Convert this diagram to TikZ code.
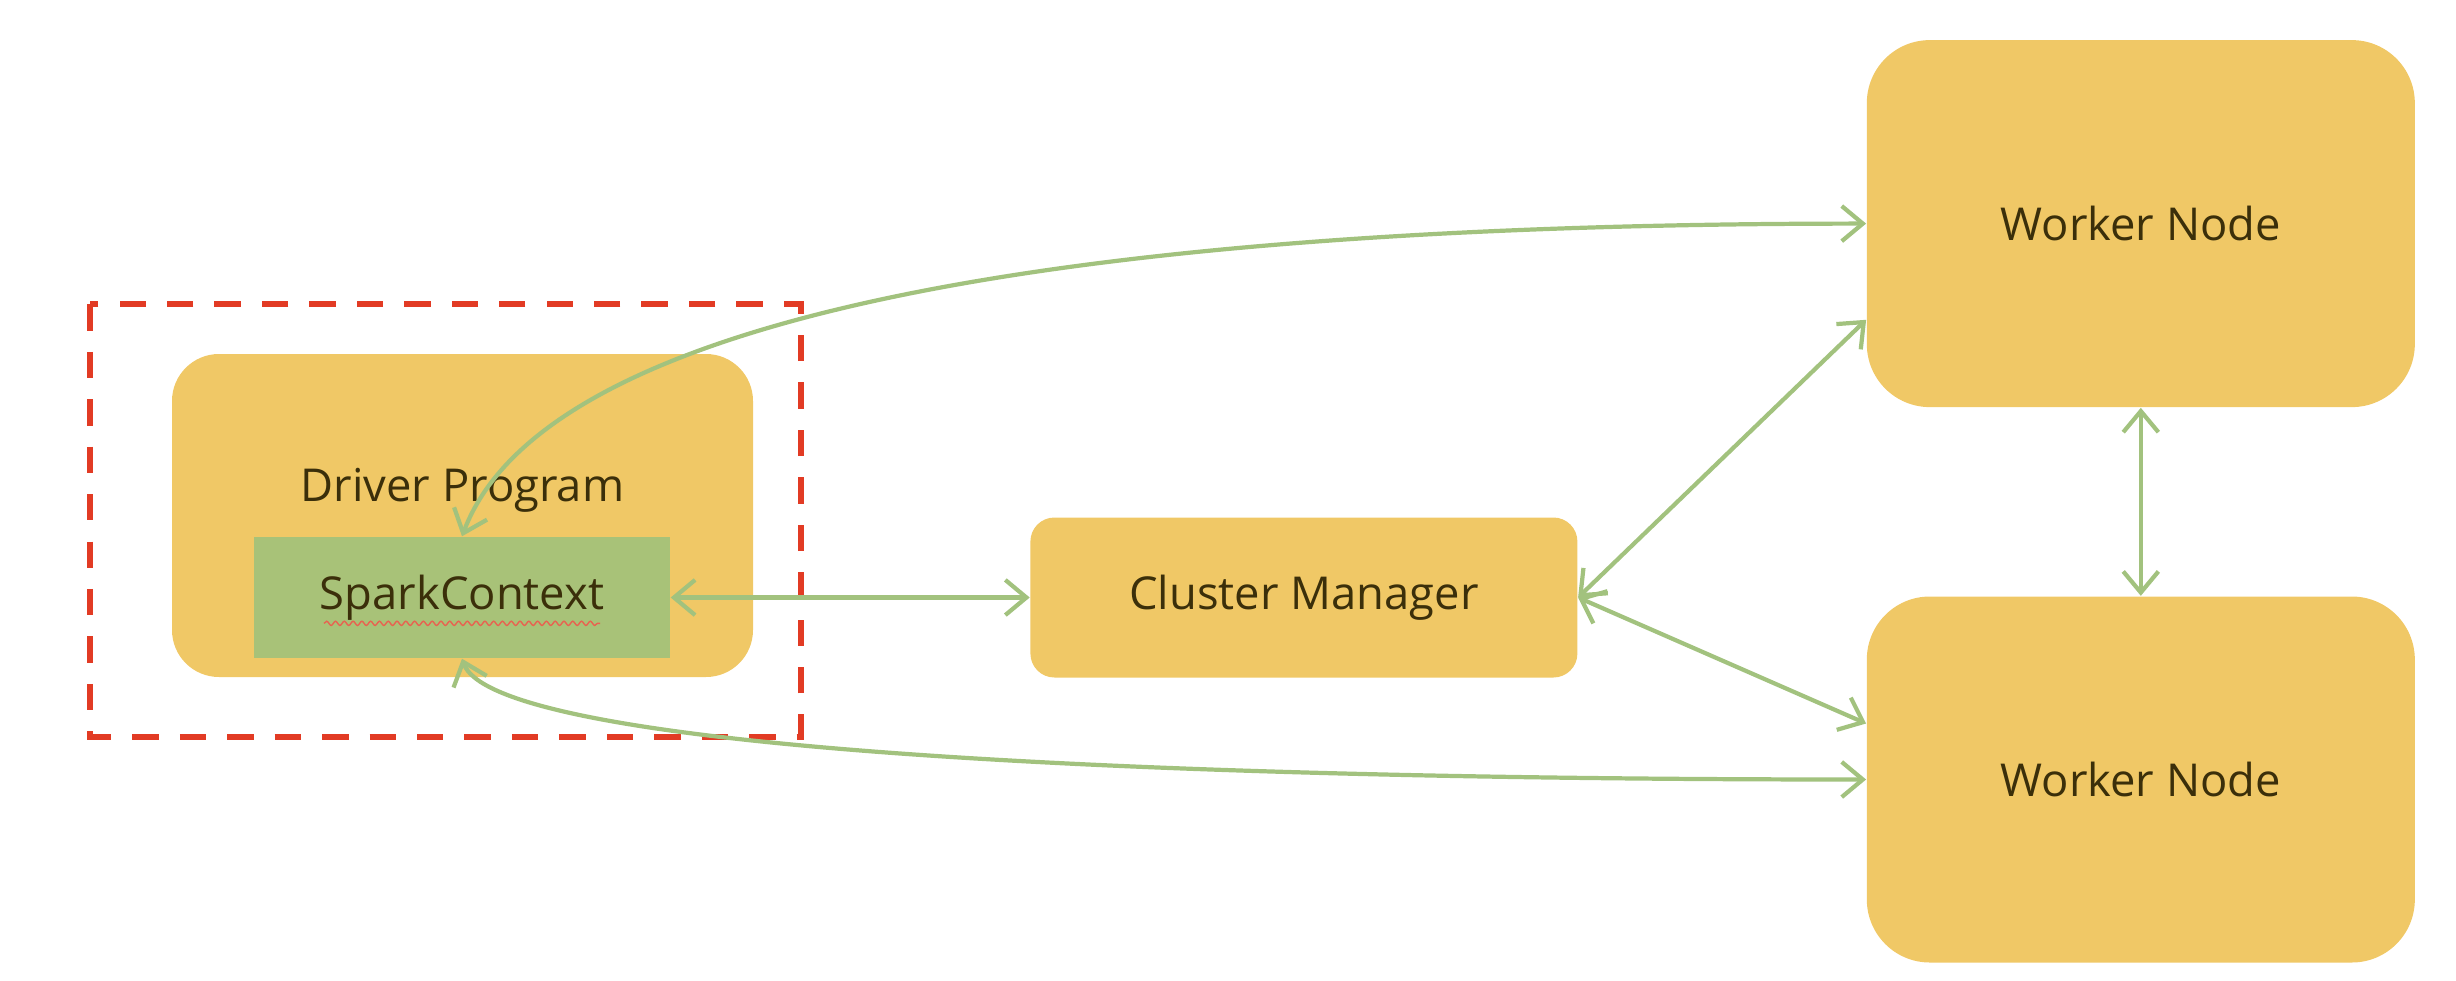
\documentclass[tikz,border=0pt]{standalone}
\usepackage{fontspec}
\setmainfont{Open Sans}
\usepackage{xcolor}
\definecolor{BoxYellow}{HTML}{F0C866}
\definecolor{CtxGreen}{HTML}{A8C278}
\definecolor{LinkGreen}{HTML}{A2C27E}
\definecolor{FrameRed}{HTML}{E23B24}
\definecolor{TextDark}{HTML}{3B2F0A}
\usetikzlibrary{arrows.meta, positioning, decorations.pathmorphing}
\tikzset{
  base box/.style={
    rectangle, align=center, inner sep=0pt,
    font=\fontsize{12.9}{15}\selectfont, text=TextDark
  },
  yellow box/.style={base box, fill=BoxYellow, rounded corners=#1},
  green box/.style={base box, fill=CtxGreen},
  plain text/.style={base box},
  link/.style={{Straight Barb[length=6pt,width=10pt]}-{Straight Barb[length=6pt,width=10pt]},
    line width=1.2pt, color=LinkGreen},
  frame/.style={draw=FrameRed, line width=1.8pt, dash pattern=on 7.5pt off 6pt},
  squiggle/.style={draw=FrameRed!80, line width=0.4pt,
    decorate, decoration={snake, amplitude=0.6pt, segment length=2.5pt}},
}

\begin{document}
\begin{tikzpicture}
  \useasboundingbox (0,0) rectangle (24.56,9.80);

  % -- driver side ------------------------------------------------------------
  \node[yellow box=0.47cm, minimum width=5.81cm, minimum height=3.23cm] (driver) at (4.625,4.645) {};
  \node[plain text] (drivertext) at ([yshift=0.255cm]driver.center) {Driver Program};
  \node[green box, minimum width=4.16cm, minimum height=1.21cm] (spark) at (4.62,3.825) {SparkContext};
  \draw[squiggle] ([xshift=-1.38cm,yshift=-4pt]spark.base) -- ([xshift=1.38cm,yshift=-4pt]spark.base);

  \draw[frame] ([xshift=-0.81cm,yshift=0.49cm]driver.north west)
    rectangle ([xshift=0.47cm,yshift=-0.59cm]driver.south east);

  % -- cluster manager + workers ----------------------------------------------
  \node[yellow box=0.24cm, minimum width=5.47cm, minimum height=1.60cm, right=3.59cm of spark] (cluster)
    {Cluster Manager};
  \node[yellow box=0.63cm, minimum width=5.48cm, minimum height=3.67cm,
        above right=1.09cm and 2.88cm of cluster] (wtop) {Worker Node};
  \node[yellow box=0.63cm, minimum width=5.48cm, minimum height=3.66cm, below=1.88cm of wtop] (wbot)
    {Worker Node};

  % -- links --------------------------------------------------------------------
  \draw[link] (spark.east) -- (cluster.west);
  \draw[link] (cluster.east) -- ([yshift=0.88cm]wtop.south west);
  \draw[link] (cluster.east) -- ([yshift=0.56cm]wbot.west);
  \draw[link] (wtop.south) -- (wbot.north);
  \draw[link] (spark.north) .. controls +(0.9,2.4) and +(-7.1,0) .. (wtop.west);
  \draw[link] (spark.south) .. controls +(0.3,-0.85) and +(-8,0) .. (wbot.west);

\end{tikzpicture}
\end{document}
